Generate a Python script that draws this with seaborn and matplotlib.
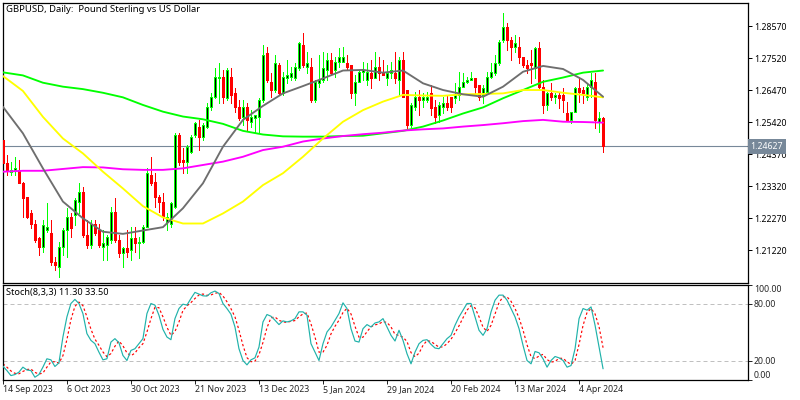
import matplotlib
matplotlib.use("Agg")
import matplotlib.pyplot as plt
from matplotlib.transforms import blended_transform_factory
import pandas as pd
import seaborn as sns

opens = [
 1.2484,1.2407,1.2380,1.2386,1.2386,1.2342,1.2298,1.2243,1.2210,1.2161,
 1.2134,1.2189,1.2178,1.2085,1.2068,1.2134,1.2189,1.2232,1.2238,1.2282,
 1.2314,1.2172,1.2139,1.2210,1.2189,1.2134,1.2139,1.2156,1.2249,1.2156,
 1.2112,1.2128,1.2123,1.2161,1.2145,1.2150,1.2200,1.2369,1.2347,1.2298,
 1.2282,1.2216,1.2210,1.2265,1.2500,1.2418,1.2413,1.2446,1.2500,1.2528,
 1.2495,1.2528,1.2593,1.2626,1.2686,1.2692,1.2621,1.2692,1.2637,1.2593,
 1.2561,1.2593,1.2544,1.2555,1.2561,1.2615,1.2768,1.2675,1.2648,1.2730,
 1.2637,1.2686,1.2692,1.2686,1.2719,1.2796,1.2725,1.2725,1.2615,1.2670,
 1.2681,1.2714,1.2746,1.2714,1.2741,1.2741,1.2736,1.2730,1.2637,1.2675,
 1.2708,1.2681,1.2703,1.2686,1.2725,1.2703,1.2686,1.2703,1.2703,1.2681,
 1.2746,1.2648,1.2533,1.2593,1.2626,1.2615,1.2615,1.2637,1.2593,1.2566,
 1.2593,1.2604,1.2626,1.2621,1.2632,1.2659,1.2675,1.2681,1.2686,1.2664,
 1.2632,1.2643,1.2692,1.2703,1.2736,1.2812,1.2856,1.2812,1.2790,1.2790,
 1.2757,1.2730,1.2736,1.2719,1.2785,1.2659,1.2599,1.2637,1.2626,1.2632,
 1.2632,1.2571,1.2550,1.2577,1.2653,1.2648,1.2626,1.2659,1.2675,1.2544,1.2555]
highs = [
 1.2484,1.2435,1.2413,1.2429,1.2418,1.2347,1.2298,1.2254,1.2221,1.2167,
 1.2221,1.2276,1.2221,1.2101,1.2150,1.2194,1.2260,1.2243,1.2293,1.2342,
 1.2331,1.2221,1.2221,1.2221,1.2210,1.2189,1.2172,1.2265,1.2293,1.2172,
 1.2134,1.2189,1.2200,1.2200,1.2167,1.2205,1.2391,1.2429,1.2375,1.2303,
 1.2309,1.2243,1.2282,1.2506,1.2506,1.2457,1.2468,1.2500,1.2544,1.2550,
 1.2539,1.2604,1.2637,1.2719,1.2736,1.2714,1.2719,1.2719,1.2653,1.2615,
 1.2615,1.2604,1.2582,1.2566,1.2621,1.2796,1.2790,1.2703,1.2763,1.2736,
 1.2708,1.2746,1.2725,1.2736,1.2807,1.2834,1.2774,1.2752,1.2681,1.2763,
 1.2774,1.2768,1.2768,1.2757,1.2785,1.2790,1.2763,1.2730,1.2697,1.2714,
 1.2741,1.2736,1.2746,1.2774,1.2757,1.2746,1.2730,1.2741,1.2774,1.2757,
 1.2774,1.2648,1.2604,1.2643,1.2648,1.2637,1.2643,1.2664,1.2615,1.2610,
 1.2626,1.2632,1.2626,1.2670,1.2708,1.2703,1.2692,1.2708,1.2686,1.2664,
 1.2664,1.2708,1.2736,1.2763,1.2812,1.2900,1.2867,1.2823,1.2829,1.2823,
 1.2757,1.2746,1.2779,1.2790,1.2807,1.2681,1.2643,1.2670,1.2637,1.2637,
 1.2653,1.2610,1.2577,1.2659,1.2692,1.2659,1.2670,1.2703,1.2703,1.2577,1.2561]
lows = [
 1.2407,1.2369,1.2369,1.2369,1.2342,1.2232,1.2227,1.2194,1.2150,1.2107,
 1.2117,1.2183,1.2074,1.2057,1.2036,1.2107,1.2101,1.2167,1.2205,1.2243,
 1.2167,1.2128,1.2128,1.2172,1.2134,1.2090,1.2090,1.2145,1.2150,1.2101,
 1.2068,1.2101,1.2090,1.2117,1.2096,1.2145,1.2200,1.2336,1.2265,1.2249,
 1.2221,1.2189,1.2200,1.2260,1.2402,1.2375,1.2375,1.2440,1.2495,1.2451,
 1.2484,1.2522,1.2582,1.2621,1.2604,1.2604,1.2615,1.2604,1.2577,1.2550,
 1.2533,1.2517,1.2528,1.2511,1.2506,1.2610,1.2675,1.2626,1.2643,1.2632,
 1.2632,1.2670,1.2681,1.2681,1.2714,1.2725,1.2703,1.2610,1.2610,1.2659,
 1.2675,1.2681,1.2697,1.2692,1.2725,1.2741,1.2714,1.2621,1.2599,1.2675,
 1.2681,1.2664,1.2653,1.2686,1.2681,1.2697,1.2664,1.2686,1.2670,1.2632,
 1.2626,1.2517,1.2528,1.2582,1.2566,1.2593,1.2610,1.2566,1.2539,1.2544,
 1.2571,1.2582,1.2577,1.2604,1.2615,1.2659,1.2670,1.2681,1.2632,1.2615,
 1.2604,1.2637,1.2686,1.2697,1.2730,1.2807,1.2779,1.2746,1.2774,1.2736,
 1.2725,1.2703,1.2670,1.2686,1.2653,1.2571,1.2582,1.2615,1.2604,1.2588,
 1.2577,1.2550,1.2539,1.2577,1.2610,1.2604,1.2615,1.2626,1.2522,1.2511,1.2446]
closes = [
 1.2407,1.2386,1.2386,1.2391,1.2342,1.2293,1.2232,1.2210,1.2156,1.2134,
 1.2205,1.2200,1.2085,1.2074,1.2134,1.2189,1.2232,1.2194,1.2287,1.2314,
 1.2172,1.2139,1.2210,1.2178,1.2139,1.2145,1.2167,1.2249,1.2156,1.2112,
 1.2128,1.2117,1.2161,1.2145,1.2150,1.2200,1.2375,1.2342,1.2298,1.2282,
 1.2232,1.2232,1.2276,1.2500,1.2413,1.2413,1.2462,1.2495,1.2539,1.2495,
 1.2533,1.2593,1.2626,1.2692,1.2692,1.2626,1.2714,1.2632,1.2593,1.2555,
 1.2593,1.2550,1.2561,1.2566,1.2615,1.2763,1.2681,1.2648,1.2736,1.2637,
 1.2692,1.2697,1.2703,1.2725,1.2801,1.2730,1.2736,1.2615,1.2675,1.2681,
 1.2719,1.2746,1.2703,1.2741,1.2757,1.2757,1.2725,1.2637,1.2675,1.2708,
 1.2714,1.2708,1.2686,1.2725,1.2703,1.2697,1.2703,1.2714,1.2686,1.2746,
 1.2626,1.2533,1.2599,1.2626,1.2615,1.2626,1.2626,1.2588,1.2561,1.2599,
 1.2604,1.2593,1.2593,1.2632,1.2659,1.2675,1.2681,1.2686,1.2659,1.2626,
 1.2653,1.2692,1.2708,1.2736,1.2807,1.2856,1.2812,1.2790,1.2801,1.2757,
 1.2730,1.2719,1.2730,1.2785,1.2659,1.2599,1.2637,1.2626,1.2632,1.2621,
 1.2615,1.2550,1.2577,1.2653,1.2643,1.2637,1.2659,1.2681,1.2550,1.2555,1.24627]

ma_bars = list(range(0, 151, 5))
ma_green = [1.2706,1.2696,1.2672,1.2659,1.2651,1.2639,1.2624,1.2599,1.2577,1.2561,1.2552,
            1.2537,1.2514,1.2502,1.2496,1.2495,1.2495,1.2497,1.2498,1.2506,1.2514,1.2528,
            1.2548,1.2571,1.2591,1.2621,1.2648,1.2675,1.2689,1.2705,1.2712]
ma_yellow = [1.2694,1.2645,1.2560,1.2489,1.2440,1.2380,1.2325,1.2267,1.2230,1.2210,1.2210,
             1.2243,1.2282,1.2336,1.2375,1.2429,1.2489,1.2544,1.2582,1.2610,1.2632,1.2630,
             1.2629,1.2634,1.2635,1.2637,1.2648,1.2648,1.2639,1.2632,1.2624]
ma_gray = [1.2593,1.2506,1.2391,1.2282,1.2227,1.2183,1.2176,1.2187,1.2198,1.2260,1.2342,
           1.2462,1.2550,1.2596,1.2637,1.2661,1.2686,1.2712,1.2714,1.2705,1.2712,1.2670,
           1.2648,1.2634,1.2626,1.2659,1.2708,1.2727,1.2717,1.2681,1.2626]
ma_magenta = [1.2380,1.2383,1.2383,1.2389,1.2395,1.2394,1.2388,1.2386,1.2386,1.2391,1.2402,
              1.2413,1.2429,1.2451,1.2462,1.2479,1.2489,1.2497,1.2503,1.2508,1.2515,1.2519,
              1.2522,1.2528,1.2533,1.2539,1.2546,1.2550,1.2544,1.2543,1.2541]

stoch_main = [
 14.0,9.4,4.1,5.2,7.7,13.0,10.0,9.4,2.4,5.2,
 13.0,21.8,20.7,13.7,17.5,44.7,65.9,80.0,84.3,80.0,
 69.4,48.3,41.2,37.7,28.8,20.7,21.8,39.4,43.0,38.7,
 25.3,20.0,30.6,32.4,37.7,43.0,69.4,80.0,78.3,67.7,
 52.8,44.7,41.9,64.1,74.7,79.3,78.3,85.3,91.7,89.9,
 88.1,87.8,91.3,93.1,90.6,80.0,74.7,68.7,55.3,32.4,
 20.0,15.4,20.7,22.8,34.1,60.6,68.4,66.6,62.4,57.8,
 61.7,60.6,61.7,64.1,71.2,71.2,67.7,37.7,28.8,20.0,
 37.7,50.0,55.3,62.4,69.4,80.7,74.7,53.5,40.5,39.4,
 53.5,57.8,55.3,59.5,60.6,64.1,55.3,46.5,40.5,51.8,
 41.2,27.1,16.5,28.8,37.7,41.2,41.9,37.0,33.1,32.4,
 37.7,43.0,46.5,57.1,65.9,73.0,80.0,80.0,65.9,51.8,
 46.5,53.5,71.2,83.5,88.8,88.8,83.5,74.7,65.9,53.5,
 35.9,20.0,16.5,29.5,28.1,21.8,13.0,20.0,24.2,22.8,
 20.0,13.0,14.7,32.4,64.1,74.7,73.0,76.4,57.1,34.1,11.3]
stoch_signal = [
 16.5,13.0,9.0,6.5,6.0,8.5,10.5,11.0,7.5,5.7,
 6.8,13.0,18.5,18.7,17.3,25.0,42.0,63.0,77.0,81.5,
 77.8,66.0,53.0,42.5,36.0,29.0,24.0,27.3,35.0,40.5,
 35.5,28.0,25.0,27.8,33.5,37.7,50.0,64.0,76.0,75.6,
 66.0,55.0,46.5,50.5,60.5,72.7,77.5,81.0,85.3,89.0,
 90.0,88.6,89.0,90.7,91.7,87.9,81.8,74.5,66.0,52.0,
 36.0,23.0,18.7,19.3,26.0,39.0,54.5,65.0,65.8,62.3,
 60.7,60.0,61.4,62.0,66.0,69.0,70.0,58.5,44.7,28.8,
 28.8,36.0,48.0,56.0,62.4,70.5,75.0,69.0,56.0,44.5,
 44.5,50.3,55.5,57.5,58.5,61.0,60.0,55.3,47.5,46.3,
 44.5,40.0,28.3,24.0,27.7,36.0,41.0,40.0,37.0,34.0,
 34.4,37.7,42.4,49.0,56.5,65.0,73.0,77.7,75.3,66.0,
 55.0,50.6,57.0,69.0,81.0,87.0,87.0,82.3,74.7,64.7,
 52.0,36.5,24.0,22.0,24.7,26.5,21.0,18.3,19.0,22.3,
 22.3,18.6,15.9,20.0,37.0,57.0,70.6,74.7,69.0,55.5,33.5]

date_ticks = [0, 16, 32, 48, 64, 80, 96, 112, 128, 144]
date_labels = ["14 Sep 2023", "6 Oct 2023", "30 Oct 2023", "21 Nov 2023", "13 Dec 2023",
               "5 Jan 2024", "29 Jan 2024", "20 Feb 2024", "13 Mar 2024", "4 Apr 2024"]
price_ticks = [1.28570, 1.27520, 1.26470, 1.25420, 1.24370, 1.23320, 1.22270, 1.21220]
stoch_levels = [20, 80]
stoch_ticks = [0, 20, 80, 100]
bid_price = 1.24627

FS = 6.3
sns.set_theme(style="white", rc={"font.family": "Noto Sans", "font.size": FS})

W, H = 800, 400
fig = plt.figure(figsize=(8, 4), dpi=100, facecolor="white")


def pane(left, top, right, bottom):
    return fig.add_axes([left / W, 1 - bottom / H, (right - left) / W, (bottom - top) / H])


ax = pane(2.5, 2.5, 747.5, 282.5)
sub = pane(2.5, 284.5, 747.5, 379.5)
XLIM = (-0.1, 186.1)

bars = pd.DataFrame({"bar": range(len(opens)), "o": opens, "h": highs, "l": lows, "c": closes})
bull = bars[bars.c > bars.o]
bear = bars[bars.c <= bars.o]

ax.vlines(bull.bar, bull.l, bull.h, color="#00FF00", lw=0.72, antialiased=False, zorder=2)
ax.vlines(bear.bar, bear.l, bear.h, color="#FF0000", lw=0.72, antialiased=False, zorder=2)
ax.bar(bull.bar, bull.c - bull.o, bottom=bull.o, width=0.5, facecolor="black",
       edgecolor="#00FF00", linewidth=0.72, antialiased=False, zorder=3)
ax.bar(bear.bar, bear.c - bear.o, bottom=bear.o, width=0.5, facecolor="#FF0000",
       edgecolor="#FF0000", linewidth=0.72, antialiased=False, zorder=3)

ma = pd.DataFrame({"bar": ma_bars, "green": ma_green, "yellow": ma_yellow,
                   "gray": ma_gray, "magenta": ma_magenta})
for name, colour in [("green", "#00FF00"), ("magenta", "#FF00FF"), ("yellow", "#FFFF00"), ("gray", "#6E6E6E")]:
    sns.lineplot(data=ma, x="bar", y=name, color=colour, lw=1.35, ax=ax, zorder=4,
                 errorbar=None, legend=False)

ax.axhline(bid_price, color="#778899", lw=0.8, zorder=1)
ax.set_xlim(*XLIM)
ax.set_ylim(1.20164, 1.29352)
ax.set_xticks([])
ax.set_xlabel("")
ax.set_ylabel("")
ax.yaxis.tick_right()
ax.set_yticks(price_ticks)
ax.set_yticklabels([f"{p:.5f}" for p in price_ticks])
ax.tick_params(axis="y", right=True, length=3, width=0.72, pad=1.5, labelsize=FS, color="black", labelcolor="black")

fig.text(6.5 / W, 1 - 10 / H, "GBPUSD, Daily:  Pound Sterling vs US Dollar", va="center", fontsize=6.85, color="black")

bid_tf = blended_transform_factory(ax.transAxes, ax.transData)
ax.text(1.0041, bid_price, "1.24627", transform=bid_tf, va="center", ha="left", color="white",
        fontsize=FS, zorder=10, clip_on=False,
        bbox=dict(boxstyle="square,pad=0.3", fc="#778899", ec="none"))

stoch = pd.DataFrame({"bar": range(len(stoch_main)), "main": stoch_main, "signal": stoch_signal})
for level in stoch_levels:
    sub.axhline(level, color="#C0C0C0", lw=0.72, dashes=(4, 3), zorder=1)
sns.lineplot(data=stoch, x="bar", y="signal", color="#FF0000", lw=0.85, ax=sub, errorbar=None,
             legend=False, linestyle=(0, (2, 2)), zorder=2)
sns.lineplot(data=stoch, x="bar", y="main", color="#20B2AA", lw=0.85, ax=sub, errorbar=None,
             legend=False, zorder=3)
sub.set_xlim(*XLIM)
sub.set_ylim(0, 100)
sub.set_xlabel("")
sub.set_ylabel("")
sub.yaxis.tick_right()
sub.set_yticks(stoch_ticks)
labels = sub.set_yticklabels([f"{t:.2f}" for t in stoch_ticks])
labels[0].set_va("bottom")
labels[-1].set_va("top")
sub.set_xticks(date_ticks)
sub.set_xticklabels(date_labels, ha="left")
sub.tick_params(axis="y", right=True, length=3, width=0.72, pad=1.5, labelsize=FS)
sub.tick_params(axis="x", bottom=True, length=3, width=0.72, pad=1, labelsize=FS)

fig.text(6 / W, 1 - 293 / H, "Stoch(8,3,3) 11.30 33.50", va="center", fontsize=6.6, color="black")

for a in (ax, sub):
    for s in a.spines.values():
        s.set_visible(True)
        s.set_color("black")
        s.set_linewidth(0.9)
    a.grid(False)
    a.set_facecolor("white")

fig.savefig("out.png", dpi=100, facecolor="white")
